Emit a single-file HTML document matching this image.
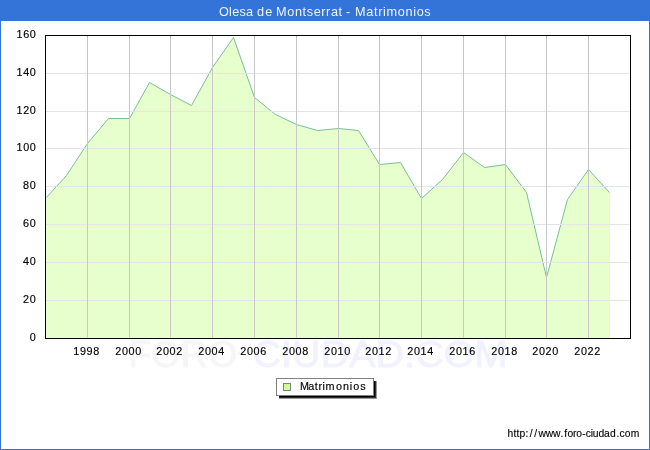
<!DOCTYPE html>
<html><head><meta charset="utf-8"><title>Olesa de Montserrat - Matrimonios</title>
<style>
html,body{margin:0;padding:0;background:#fff;}
body{width:650px;height:450px;overflow:hidden;font-family:"Liberation Sans",sans-serif;}
svg{display:block;will-change:transform;}
text{font-family:"Liberation Sans",sans-serif;}
</style></head><body>
<svg width="650" height="450" viewBox="0 0 650 450">
<rect x="0" y="0" width="650" height="450" fill="#ffffff"/>

<rect x="0" y="0" width="650" height="450" fill="#3474d8" shape-rendering="crispEdges"/>
<rect x="1" y="21" width="648" height="428" fill="#ffffff" shape-rendering="crispEdges"/>
<rect x="0" y="0" width="650" height="20" fill="#3474d8" shape-rendering="crispEdges"/>
<text x="219.00" y="15.7" font-size="12.7" fill="#eef3fc" textLength="34.17" lengthAdjust="spacing">Olesa</text>
<text x="257.03" y="15.7" font-size="12.7" fill="#eef3fc" textLength="15.17" lengthAdjust="spacing">de</text>
<text x="276.06" y="15.7" font-size="12.7" fill="#eef3fc" textLength="66.09" lengthAdjust="spacing">Montserrat</text>
<text x="346.02" y="15.7" font-size="12.7" fill="#eef3fc" textLength="4.38" lengthAdjust="spacing">-</text>
<text x="355.10" y="15.7" font-size="12.7" fill="#eef3fc" textLength="75.6" lengthAdjust="spacing">Matrimonios</text>
<text x="128.3" y="366.8" font-size="37" fill="#f6f6f6" stroke="#f6f6f6" stroke-width="0.8" textLength="109" lengthAdjust="spacingAndGlyphs">FORO</text>
<rect x="237.5" y="351.5" width="10" height="3.6" fill="#f6f6f6"/>
<text x="252.5" y="366.8" font-size="37" fill="#f1f1ff" stroke="#f1f1ff" stroke-width="0.8" textLength="255" lengthAdjust="spacingAndGlyphs">CIUDAD.COM</text>
<rect x="45" y="35" width="586" height="304" fill="#ffffff"/>
<polygon points="45.00,338.5 45.00,198.50 45.50,198.50 66.50,175.50 87.50,143.50 108.50,118.50 129.50,118.50 149.50,82.50 170.50,94.50 191.50,105.50 212.50,67.50 233.50,37.50 254.50,97.50 275.50,114.50 296.50,124.50 317.50,130.50 338.50,128.50 358.50,130.50 379.50,164.50 400.50,162.50 421.50,198.50 442.50,179.50 463.50,152.50 484.50,167.50 505.50,164.50 526.50,192.50 546.50,277.50 567.50,199.50 588.50,169.50 609.50,192.50 610.00,192.50 610.00,338.5" fill="#e6ffcc"/>
<polyline points="45.50,198.50 66.50,175.50 87.50,143.50 108.50,118.50 129.50,118.50 149.50,82.50 170.50,94.50 191.50,105.50 212.50,67.50 233.50,37.50 254.50,97.50 275.50,114.50 296.50,124.50 317.50,130.50 338.50,128.50 358.50,130.50 379.50,164.50 400.50,162.50 421.50,198.50 442.50,179.50 463.50,152.50 484.50,167.50 505.50,164.50 526.50,192.50 546.50,277.50 567.50,199.50 588.50,169.50 609.50,192.50" fill="none" stroke="#77c098" stroke-width="1" stroke-linejoin="round"/>
<rect x="46" y="36" width="1" height="302" fill="#ffffff" fill-opacity="0.2" shape-rendering="crispEdges"/>
<rect x="47" y="337" width="563" height="1" fill="#ffffff" fill-opacity="0.2" shape-rendering="crispEdges"/>
<rect x="47" y="300" width="582" height="1" fill="#e4e4e4" shape-rendering="crispEdges"/>
<rect x="46" y="300" width="1" height="1" fill="#000" fill-opacity="0.1" shape-rendering="crispEdges"/>
<rect x="629" y="300" width="1" height="1" fill="#000" fill-opacity="0.08" shape-rendering="crispEdges"/>
<rect x="47" y="262" width="582" height="1" fill="#e4e4e4" shape-rendering="crispEdges"/>
<rect x="46" y="262" width="1" height="1" fill="#000" fill-opacity="0.1" shape-rendering="crispEdges"/>
<rect x="629" y="262" width="1" height="1" fill="#000" fill-opacity="0.08" shape-rendering="crispEdges"/>
<rect x="47" y="224" width="582" height="1" fill="#e4e4e4" shape-rendering="crispEdges"/>
<rect x="46" y="224" width="1" height="1" fill="#000" fill-opacity="0.1" shape-rendering="crispEdges"/>
<rect x="629" y="224" width="1" height="1" fill="#000" fill-opacity="0.08" shape-rendering="crispEdges"/>
<rect x="47" y="186" width="582" height="1" fill="#e4e4e4" shape-rendering="crispEdges"/>
<rect x="46" y="186" width="1" height="1" fill="#000" fill-opacity="0.1" shape-rendering="crispEdges"/>
<rect x="629" y="186" width="1" height="1" fill="#000" fill-opacity="0.08" shape-rendering="crispEdges"/>
<rect x="47" y="148" width="582" height="1" fill="#e4e4e4" shape-rendering="crispEdges"/>
<rect x="46" y="148" width="1" height="1" fill="#000" fill-opacity="0.1" shape-rendering="crispEdges"/>
<rect x="629" y="148" width="1" height="1" fill="#000" fill-opacity="0.08" shape-rendering="crispEdges"/>
<rect x="47" y="111" width="582" height="1" fill="#e4e4e4" shape-rendering="crispEdges"/>
<rect x="46" y="111" width="1" height="1" fill="#000" fill-opacity="0.1" shape-rendering="crispEdges"/>
<rect x="629" y="111" width="1" height="1" fill="#000" fill-opacity="0.08" shape-rendering="crispEdges"/>
<rect x="47" y="73" width="582" height="1" fill="#e4e4e4" shape-rendering="crispEdges"/>
<rect x="46" y="73" width="1" height="1" fill="#000" fill-opacity="0.1" shape-rendering="crispEdges"/>
<rect x="629" y="73" width="1" height="1" fill="#000" fill-opacity="0.08" shape-rendering="crispEdges"/>
<rect x="87" y="37" width="1" height="300" fill="#c8c8c8" shape-rendering="crispEdges"/>
<rect x="87" y="36" width="1" height="1" fill="#000" fill-opacity="0.35" shape-rendering="crispEdges"/>
<rect x="87" y="337" width="1" height="1" fill="#c8c8c8" fill-opacity="0.6" shape-rendering="crispEdges"/>
<rect x="129" y="37" width="1" height="300" fill="#c8c8c8" shape-rendering="crispEdges"/>
<rect x="129" y="36" width="1" height="1" fill="#000" fill-opacity="0.35" shape-rendering="crispEdges"/>
<rect x="129" y="337" width="1" height="1" fill="#c8c8c8" fill-opacity="0.6" shape-rendering="crispEdges"/>
<rect x="170" y="37" width="1" height="300" fill="#c8c8c8" shape-rendering="crispEdges"/>
<rect x="170" y="36" width="1" height="1" fill="#000" fill-opacity="0.35" shape-rendering="crispEdges"/>
<rect x="170" y="337" width="1" height="1" fill="#c8c8c8" fill-opacity="0.6" shape-rendering="crispEdges"/>
<rect x="212" y="37" width="1" height="300" fill="#c8c8c8" shape-rendering="crispEdges"/>
<rect x="212" y="36" width="1" height="1" fill="#000" fill-opacity="0.35" shape-rendering="crispEdges"/>
<rect x="212" y="337" width="1" height="1" fill="#c8c8c8" fill-opacity="0.6" shape-rendering="crispEdges"/>
<rect x="254" y="37" width="1" height="300" fill="#c8c8c8" shape-rendering="crispEdges"/>
<rect x="254" y="36" width="1" height="1" fill="#000" fill-opacity="0.35" shape-rendering="crispEdges"/>
<rect x="254" y="337" width="1" height="1" fill="#c8c8c8" fill-opacity="0.6" shape-rendering="crispEdges"/>
<rect x="296" y="37" width="1" height="300" fill="#c8c8c8" shape-rendering="crispEdges"/>
<rect x="296" y="36" width="1" height="1" fill="#000" fill-opacity="0.35" shape-rendering="crispEdges"/>
<rect x="296" y="337" width="1" height="1" fill="#c8c8c8" fill-opacity="0.6" shape-rendering="crispEdges"/>
<rect x="338" y="37" width="1" height="300" fill="#c8c8c8" shape-rendering="crispEdges"/>
<rect x="338" y="36" width="1" height="1" fill="#000" fill-opacity="0.35" shape-rendering="crispEdges"/>
<rect x="338" y="337" width="1" height="1" fill="#c8c8c8" fill-opacity="0.6" shape-rendering="crispEdges"/>
<rect x="379" y="37" width="1" height="300" fill="#c8c8c8" shape-rendering="crispEdges"/>
<rect x="379" y="36" width="1" height="1" fill="#000" fill-opacity="0.35" shape-rendering="crispEdges"/>
<rect x="379" y="337" width="1" height="1" fill="#c8c8c8" fill-opacity="0.6" shape-rendering="crispEdges"/>
<rect x="421" y="37" width="1" height="300" fill="#c8c8c8" shape-rendering="crispEdges"/>
<rect x="421" y="36" width="1" height="1" fill="#000" fill-opacity="0.35" shape-rendering="crispEdges"/>
<rect x="421" y="337" width="1" height="1" fill="#c8c8c8" fill-opacity="0.6" shape-rendering="crispEdges"/>
<rect x="463" y="37" width="1" height="300" fill="#c8c8c8" shape-rendering="crispEdges"/>
<rect x="463" y="36" width="1" height="1" fill="#000" fill-opacity="0.35" shape-rendering="crispEdges"/>
<rect x="463" y="337" width="1" height="1" fill="#c8c8c8" fill-opacity="0.6" shape-rendering="crispEdges"/>
<rect x="505" y="37" width="1" height="300" fill="#c8c8c8" shape-rendering="crispEdges"/>
<rect x="505" y="36" width="1" height="1" fill="#000" fill-opacity="0.35" shape-rendering="crispEdges"/>
<rect x="505" y="337" width="1" height="1" fill="#c8c8c8" fill-opacity="0.6" shape-rendering="crispEdges"/>
<rect x="546" y="37" width="1" height="300" fill="#c8c8c8" shape-rendering="crispEdges"/>
<rect x="546" y="36" width="1" height="1" fill="#000" fill-opacity="0.35" shape-rendering="crispEdges"/>
<rect x="546" y="337" width="1" height="1" fill="#c8c8c8" fill-opacity="0.6" shape-rendering="crispEdges"/>
<rect x="588" y="37" width="1" height="300" fill="#c8c8c8" shape-rendering="crispEdges"/>
<rect x="588" y="36" width="1" height="1" fill="#000" fill-opacity="0.35" shape-rendering="crispEdges"/>
<rect x="588" y="337" width="1" height="1" fill="#c8c8c8" fill-opacity="0.6" shape-rendering="crispEdges"/>
<rect x="45.5" y="35.5" width="585" height="303" fill="none" stroke="#000" stroke-width="1" shape-rendering="crispEdges"/>
<text x="35.7" y="341" text-anchor="end" font-size="10.8" fill="#000" stroke="#000" stroke-width="0.15" textLength="6.4" lengthAdjust="spacing">0</text>
<text x="35.7" y="303" text-anchor="end" font-size="10.8" fill="#000" stroke="#000" stroke-width="0.15" textLength="12.7" lengthAdjust="spacing">20</text>
<text x="35.7" y="265" text-anchor="end" font-size="10.8" fill="#000" stroke="#000" stroke-width="0.15" textLength="12.7" lengthAdjust="spacing">40</text>
<text x="35.7" y="227" text-anchor="end" font-size="10.8" fill="#000" stroke="#000" stroke-width="0.15" textLength="12.7" lengthAdjust="spacing">60</text>
<text x="35.7" y="189" text-anchor="end" font-size="10.8" fill="#000" stroke="#000" stroke-width="0.15" textLength="12.7" lengthAdjust="spacing">80</text>
<text x="35.7" y="151" text-anchor="end" font-size="10.8" fill="#000" stroke="#000" stroke-width="0.15" textLength="19.1" lengthAdjust="spacing">100</text>
<text x="35.7" y="114" text-anchor="end" font-size="10.8" fill="#000" stroke="#000" stroke-width="0.15" textLength="19.1" lengthAdjust="spacing">120</text>
<text x="35.7" y="76" text-anchor="end" font-size="10.8" fill="#000" stroke="#000" stroke-width="0.15" textLength="19.1" lengthAdjust="spacing">140</text>
<text x="35.7" y="38" text-anchor="end" font-size="10.8" fill="#000" stroke="#000" stroke-width="0.15" textLength="19.1" lengthAdjust="spacing">160</text>
<text x="73.3" y="355" font-size="10.8" fill="#000" stroke="#000" stroke-width="0.15" textLength="26.0" lengthAdjust="spacing">1998</text>
<text x="115.3" y="355" font-size="10.8" fill="#000" stroke="#000" stroke-width="0.15" textLength="26.0" lengthAdjust="spacing">2000</text>
<text x="156.3" y="355" font-size="10.8" fill="#000" stroke="#000" stroke-width="0.15" textLength="26.0" lengthAdjust="spacing">2002</text>
<text x="198.3" y="355" font-size="10.8" fill="#000" stroke="#000" stroke-width="0.15" textLength="26.0" lengthAdjust="spacing">2004</text>
<text x="240.3" y="355" font-size="10.8" fill="#000" stroke="#000" stroke-width="0.15" textLength="26.0" lengthAdjust="spacing">2006</text>
<text x="282.3" y="355" font-size="10.8" fill="#000" stroke="#000" stroke-width="0.15" textLength="26.0" lengthAdjust="spacing">2008</text>
<text x="324.3" y="355" font-size="10.8" fill="#000" stroke="#000" stroke-width="0.15" textLength="26.0" lengthAdjust="spacing">2010</text>
<text x="365.3" y="355" font-size="10.8" fill="#000" stroke="#000" stroke-width="0.15" textLength="26.0" lengthAdjust="spacing">2012</text>
<text x="407.3" y="355" font-size="10.8" fill="#000" stroke="#000" stroke-width="0.15" textLength="26.0" lengthAdjust="spacing">2014</text>
<text x="449.3" y="355" font-size="10.8" fill="#000" stroke="#000" stroke-width="0.15" textLength="26.0" lengthAdjust="spacing">2016</text>
<text x="491.3" y="355" font-size="10.8" fill="#000" stroke="#000" stroke-width="0.15" textLength="26.0" lengthAdjust="spacing">2018</text>
<text x="532.3" y="355" font-size="10.8" fill="#000" stroke="#000" stroke-width="0.15" textLength="26.0" lengthAdjust="spacing">2020</text>
<text x="574.3" y="355" font-size="10.8" fill="#000" stroke="#000" stroke-width="0.15" textLength="26.0" lengthAdjust="spacing">2022</text>
<rect x="279" y="381" width="98" height="18" fill="#9a9a9a" shape-rendering="crispEdges"/>
<rect x="279" y="381" width="97" height="17" fill="#2c2c2c" shape-rendering="crispEdges"/>
<rect x="279" y="381" width="96" height="16" fill="#000" shape-rendering="crispEdges"/>
<rect x="276.5" y="378.5" width="97" height="17" fill="#fff" stroke="#808080" stroke-width="1" shape-rendering="crispEdges"/>
<rect x="283.5" y="383.5" width="7" height="7" fill="#ccff99" stroke="#808080" stroke-width="1" shape-rendering="crispEdges"/>
<text x="299.9 308.2 314.85 318.49 322.57 325.61 336.0 343.1 349.86 353.13 360.15" y="390" font-size="10.8" fill="#000" stroke="#000" stroke-width="0.15">Matrimonios</text>
<text x="507.4 513.5 516.6 519.54 525.6 529.63 534.23 538.42 545.72 552.97 560.45 564.34 567.54 572.95 576.14 582.14 585.83 590.69 592.72 598.58 603.91 609.88 616.4 619.53 624.74 630.79" y="436.9" font-size="10.3" fill="#000" stroke="#000" stroke-width="0.12">http://www.foro-ciudad.com</text>
</svg></body></html>
